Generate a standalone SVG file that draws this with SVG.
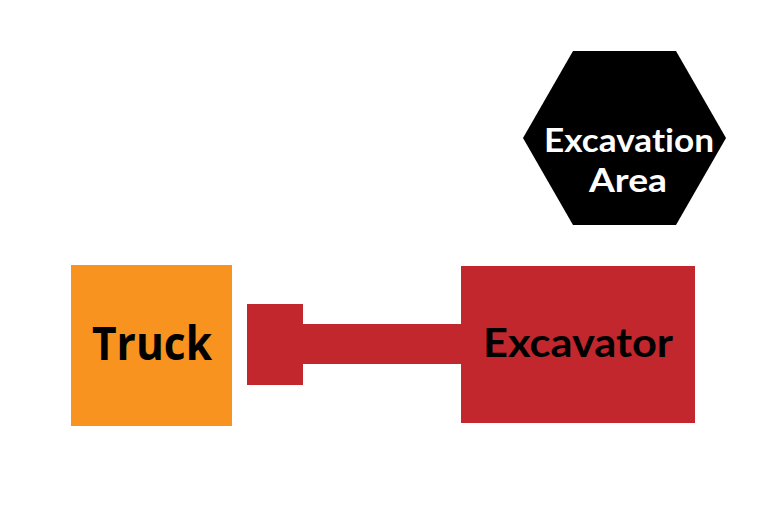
<svg xmlns="http://www.w3.org/2000/svg" width="766" height="507" viewBox="0 0 766 507">
<style>
.lbl{font-family:"Lato","Liberation Sans",sans-serif;font-weight:bold;text-anchor:middle;font-variant-ligatures:none}
.red{fill:#C1272D}
</style>
<rect width="766" height="507" fill="#FFFFFF"/>
<g id="connectors">
<rect class="red" x="302" y="324" width="160" height="40"/>
</g>
<g id="truck">
<rect x="71" y="265" width="161" height="161" fill="#F7931E"/>
<text class="lbl" x="152" y="360" font-size="46" fill="#000000" style="font-family:'Open Sans',sans-serif" textLength="120" lengthAdjust="spacingAndGlyphs">Truck</text>
</g>
<g id="bucket">
<rect class="red" x="247" y="304" width="56" height="81"/>
</g>
<g id="excavator">
<rect class="red" x="461" y="266" width="234" height="157"/>
<text class="lbl" x="578" y="357" font-size="40" fill="#000000" textLength="190" lengthAdjust="spacingAndGlyphs">Excavator</text>
</g>
<g id="excavation-area">
<polygon points="573,51 676,51 726,138 676,225 573,225 523,138" fill="#000000"/>
<text class="lbl" x="629" y="152" font-size="33" fill="#FFFFFF" textLength="170" lengthAdjust="spacingAndGlyphs">Excavation</text>
<text class="lbl" x="628" y="192" font-size="33" fill="#FFFFFF" textLength="78" lengthAdjust="spacingAndGlyphs">Area</text>
</g>
</svg>
